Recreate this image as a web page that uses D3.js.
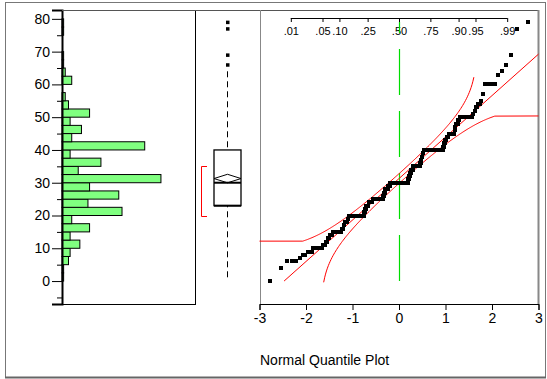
<!DOCTYPE html>
<html>
<head>
<meta charset="utf-8">
<script src="https://cdn.jsdelivr.net/npm/d3@7"></script>
<style>
body { margin: 0; background: #fff; }
svg text { font-family: "Liberation Sans", Arial, sans-serif; fill: #000; }
</style>
</head>
<body>
<div class="chart"></div>
<script>
/* global d3 */

// distinct values of the column and how often each one occurs
var values = [0, 4, 6, 7, 8, 9,
    10, 11, 12, 13, 14, 15, 16, 17, 18, 19,
    20, 21, 22, 23, 24, 25, 26, 27, 28, 29,
    30, 31, 32, 33, 34, 35, 36, 37, 38, 39,
    40, 41, 42, 43, 44, 45, 46, 47, 48, 49,
    50, 51, 52, 53, 54, 55, 57, 60, 63, 64, 66, 69, 77, 79];
var counts = [1, 1, 3, 1, 2, 3,
    7, 2, 2, 2, 3, 12, 3, 2, 4, 2,
    32, 2, 3, 6, 10, 30, 3, 2, 9, 8,
    54, 4, 3, 4, 6, 20, 2, 2, 3, 2,
    47, 2, 2, 2, 4, 10, 1, 1, 3, 2,
    15, 1, 1, 2, 2, 1, 1, 6, 1, 1, 1, 1, 1, 1];

var yTicks = [0, 10, 20, 30, 40, 50, 60, 70, 80];
var yMinorTicks = [-5, 5, 15, 25, 35, 45, 55, 65, 75];
var zTicks = [-3, -2, -1, 0, 1, 2, 3];
var probTicks = [0.01, 0.05, 0.10, 0.25, 0.50, 0.75, 0.90, 0.95, 0.99];
var probLabels = [".01", ".05", ".10", ".25", ".50", ".75", ".90", ".95", ".99"];
var binWidth = 2.5;

// normal cdf and its inverse
function pnorm(z) {
    var t = 1 / (1 + 0.2316419 * Math.abs(z));
    var d = 0.3989423 * Math.exp(-z * z / 2);
    var p = d * t * (0.3193815 + t * (-0.3565638 + t * (1.781478 + t * (-1.821256 + t * 1.330274))));
    return z > 0 ? 1 - p : p;
}
function qnorm(p) {
    var a = [-39.69683028665376, 220.9460984245205, -275.9285104469687, 138.3577518672690, -30.66479806614716, 2.506628277459239];
    var b = [-54.47609879822406, 161.5858368580409, -155.6989798598866, 66.80131188771972, -13.28068155288572];
    var c = [-0.007784894002430293, -0.3223964580411365, -2.400758277161838, -2.549732539343734, 4.374664141464968, 2.938163982698783];
    var e = [0.007784695709041462, 0.3224671290700398, 2.445134137142996, 3.754408661907416];
    var q, r;
    if (p < 0.02425) {
        q = Math.sqrt(-2 * Math.log(p));
        return (((((c[0] * q + c[1]) * q + c[2]) * q + c[3]) * q + c[4]) * q + c[5]) / ((((e[0] * q + e[1]) * q + e[2]) * q + e[3]) * q + 1);
    }
    if (p > 1 - 0.02425) {
        q = Math.sqrt(-2 * Math.log(1 - p));
        return -(((((c[0] * q + c[1]) * q + c[2]) * q + c[3]) * q + c[4]) * q + c[5]) / ((((e[0] * q + e[1]) * q + e[2]) * q + e[3]) * q + 1);
    }
    q = p - 0.5; r = q * q;
    return (((((a[0] * r + a[1]) * r + a[2]) * r + a[3]) * r + a[4]) * r + a[5]) * q / (((((b[0] * r + b[1]) * r + b[2]) * r + b[3]) * r + b[4]) * r + 1);
}

// expand the frequency table into the sorted column
var data = [];
values.forEach(function (v, i) {
    for (var j = 0; j < counts[i]; j++) data.push(v);
});
var n = data.length;
var mean = d3.mean(data);
var sd = d3.deviation(data);

var w = 547, h = 379;
var plotTop = 10, plotBottom = 304;
var histL = 62, histR = 195;
var qL = 260, qR = 538;

var svg = d3.select(".chart").append("svg")
    .attr("width", w)
    .attr("height", h);

// outer frame
svg.append("rect").attr("x", 5.5).attr("y", 2.5).attr("width", 540).attr("height", 375)
    .attr("fill", "none").attr("stroke", "#777").attr("stroke-width", 1);
svg.append("line").attr("x1", 5).attr("x2", 546).attr("y1", 377.5).attr("y2", 377.5)
    .attr("stroke", "#666").attr("stroke-width", 2);

var y = d3.scaleLinear().domain([-7, 82.7]).range([plotBottom, plotTop]);

//---------- histogram
var bins = d3.bin().domain([0, 80]).thresholds(d3.range(0, 80, binWidth))(data);
var xh = d3.scaleLinear().domain([0, 82]).range([histL, histR]);

svg.append("rect").attr("x", histL + 0.5).attr("y", plotTop + 0.5)
    .attr("width", histR - histL).attr("height", plotBottom - plotTop)
    .attr("fill", "none").attr("stroke", "#000");

svg.append("g").selectAll("rect")
    .data(bins.filter(function (b) { return b.length > 0; }))
    .enter()
    .append("rect")
    .attr("x", histL)
    .attr("y", function (d) { return y(d.x1); })
    .attr("width", function (d) { return xh(d.length) - histL; })
    .attr("height", function (d) { return y(d.x0) - y(d.x1); })
    .attr("fill", "#80ff80")
    .attr("stroke", "#000")
    .attr("stroke-width", 1);

var yAxis = svg.append("g")
    .attr("transform", "translate(" + histL + ",0)")
    .call(d3.axisLeft(y).tickValues(yTicks).tickSize(10).tickPadding(2));
yAxis.select(".domain").attr("stroke-width", 2);
yAxis.selectAll("text").attr("font-size", "14px");
svg.append("g")
    .attr("transform", "translate(" + histL + ",0)")
    .selectAll("line")
    .data(yMinorTicks)
    .enter()
    .append("line")
    .attr("x1", -5).attr("x2", 0)
    .attr("y1", function (d) { return y(d) + 0.5; })
    .attr("y2", function (d) { return y(d) + 0.5; })
    .attr("stroke", "#000");

//---------- box plot
var q1 = d3.quantile(data, 0.25), med = d3.quantile(data, 0.5), q3 = d3.quantile(data, 0.75);
var iqr = q3 - q1;
var hiW = d3.max(data.filter(function (d) { return d <= q3 + 1.5 * iqr; }));
var loW = d3.min(data.filter(function (d) { return d >= q1 - 1.5 * iqr; }));
var outliers = data.filter(function (d) { return d > hiW || d < loW; });
var bx0 = 214, bx1 = 241, bxc = 227.5;

svg.append("line").attr("x1", histR + 0.5).attr("x2", histR + 0.5)
    .attr("y1", plotTop).attr("y2", plotBottom).attr("stroke", "#000");
svg.append("line").attr("x1", histL).attr("x2", qR)
    .attr("y1", plotTop + 0.5).attr("y2", plotTop + 0.5).attr("stroke", "#555");

svg.append("line").attr("x1", bxc).attr("x2", bxc)
    .attr("y1", y(hiW)).attr("y2", y(loW))
    .attr("stroke", "#000").attr("stroke-dasharray", "6,4");
svg.append("rect").attr("x", bx0).attr("y", y(q3))
    .attr("width", bx1 - bx0).attr("height", y(q1) - y(q3))
    .attr("fill", "#fff").attr("stroke", "#000").attr("stroke-width", 1.3);
svg.append("line").attr("x1", bx0).attr("x2", bx1)
    .attr("y1", y(q1)).attr("y2", y(q1)).attr("stroke", "#000").attr("stroke-width", 2);
svg.append("line").attr("x1", bx0).attr("x2", bx1)
    .attr("y1", y(med)).attr("y2", y(med)).attr("stroke", "#000").attr("stroke-width", 2);

// mean diamond
var ci = 1.96 * sd / Math.sqrt(n);
svg.append("path")
    .attr("d", "M" + bx0 + "," + y(mean) + "L" + bxc + "," + y(mean + ci) + "L" + bx1 + "," + y(mean) + "L" + bxc + "," + y(mean - ci) + "Z")
    .attr("fill", "none").attr("stroke", "#000");

svg.append("g").selectAll("rect")
    .data(outliers)
    .enter()
    .append("rect")
    .attr("x", bxc - 1.5)
    .attr("y", function (d) { return y(d) - 1.5; })
    .attr("width", 3.5).attr("height", 3.5)
    .attr("fill", "#000");

// shortest half bracket
var half = Math.floor(n / 2);
var best = 0;
for (var i = 0; i + half < n; i++) {
    if (data[i + half] - data[i] < data[best + half] - data[best]) best = i;
}
var sh0 = data[best], sh1 = data[best + half];
svg.append("path")
    .attr("d", "M207," + Math.round(y(sh1)) + ".5H201.5V" + Math.round(y(sh0)) + ".5H207")
    .attr("fill", "none").attr("stroke", "#ff0000");

//---------- normal quantile plot
var xq = d3.scaleLinear().domain([-3, 3]).range([qL - 0.5, qR + 0.5]);

svg.append("line").attr("x1", qL + 0.5).attr("x2", qL + 0.5)
    .attr("y1", plotTop).attr("y2", plotBottom).attr("stroke", "#888");
svg.append("line").attr("x1", qR + 0.5).attr("x2", qR + 0.5)
    .attr("y1", plotTop).attr("y2", plotBottom).attr("stroke", "#888").attr("stroke-width", 2);

var xAxis = svg.append("g")
    .attr("transform", "translate(0," + plotBottom + ")")
    .call(d3.axisBottom(xq).tickValues(zTicks).tickSize(6).tickPadding(3)
        .tickFormat(function (d) { return String(d); }));
xAxis.selectAll("text").attr("font-size", "14px");

var pAxis = svg.append("g")
    .attr("transform", "translate(0,18)")
    .call(d3.axisBottom(xq).tickValues(probTicks.map(qnorm)).tickSize(4).tickPadding(5)
        .tickFormat(function (d, i) { return probLabels[i]; }));
pAxis.select(".domain").attr("d", "M" + xq(qnorm(0.01)) + ",0.5H" + xq(qnorm(0.99)));
pAxis.selectAll("text").attr("font-size", "11px");

svg.append("text").attr("x", qL).attr("y", 365)
    .attr("font-size", "14px")
    .text("Normal Quantile Plot");

// median reference line
svg.append("line").attr("x1", Math.round(xq(0)) + 0.5).attr("x2", Math.round(xq(0)) + 0.5)
    .attr("y1", y(0)).attr("y2", 22)
    .attr("stroke", "#00dd00").attr("stroke-width", 1.2).attr("stroke-dasharray", "46,16");

// fitted normal line and Lilliefors bands
var dCrit = 0.886 / Math.sqrt(n);
var zFlat = 2.07, zCut = 1.62;
var line = d3.line().x(function (d) { return xq(d[0]); }).y(function (d) { return y(d[1]); });
var zMin = (data[0] - mean) / sd;
svg.append("path").datum([[zMin, data[0]], [3, mean + 3 * sd]])
    .attr("d", line).attr("fill", "none").attr("stroke", "#ff0000");

var upper = [[-3, mean + sd * qnorm(pnorm(-zFlat) + dCrit)]];
var lower = [];
d3.range(-zFlat, zCut + 0.001, 0.02).forEach(function (z) {
    upper.push([z, mean + sd * qnorm(pnorm(z) + dCrit)]);
});
d3.range(-zCut, zFlat + 0.001, 0.02).forEach(function (z) {
    lower.push([z, mean + sd * qnorm(pnorm(z) - dCrit)]);
});
lower.push([3, mean + sd * qnorm(pnorm(zFlat) - dCrit)]);
svg.append("path").datum(upper).attr("d", line).attr("fill", "none").attr("stroke", "#ff0000");
svg.append("path").datum(lower).attr("d", line).attr("fill", "none").attr("stroke", "#ff0000");

// points
svg.append("g").selectAll("rect")
    .data(data)
    .enter()
    .append("rect")
    .attr("x", function (d, i) { return Math.round(xq(qnorm((i + 1) / (n + 1))) - 2); })
    .attr("y", function (d) { return Math.round(y(d) - 2); })
    .attr("width", 4).attr("height", 4)
    .attr("fill", "#000");
</script>
</body>
</html>
